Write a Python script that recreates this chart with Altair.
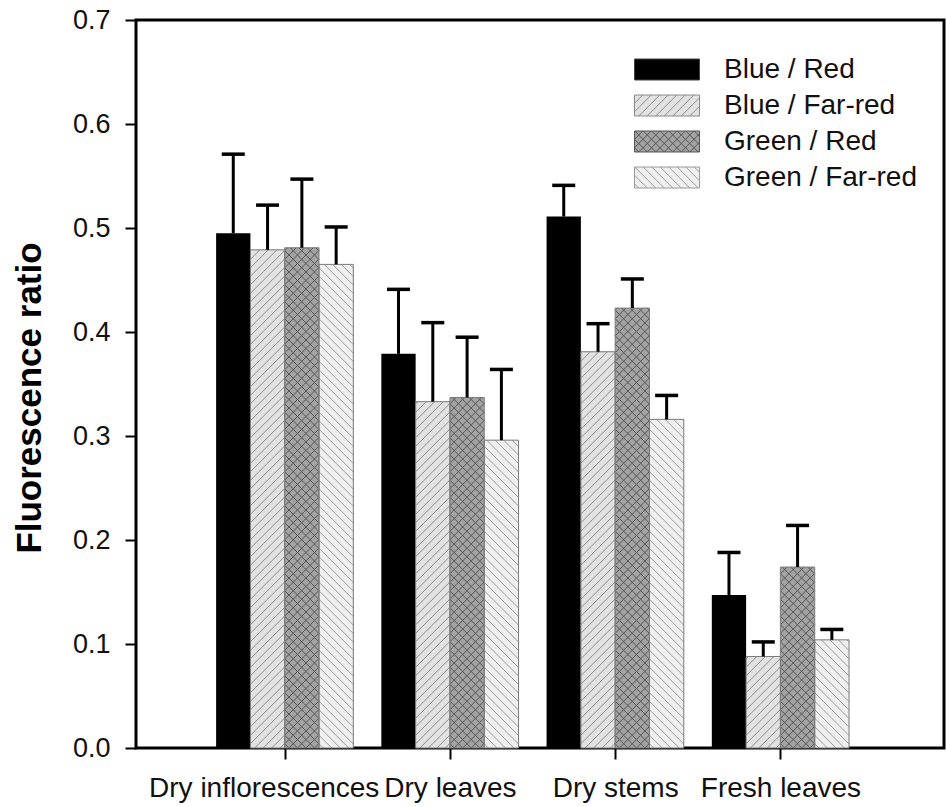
import json
import math
import altair as alt
import pandas as pd

# ---------------- data ----------------
categories = ["Dry inflorescences", "Dry leaves", "Dry stems", "Fresh leaves"]
series = ["Blue / Red", "Blue / Far-red", "Green / Red", "Green / Far-red"]

blue_red = [0.495, 0.379, 0.511, 0.147]
blue_farred = [0.479, 0.333, 0.381, 0.088]
green_red = [0.481, 0.337, 0.423, 0.174]
green_farred = [0.465, 0.296, 0.316, 0.104]

err_blue_red = [0.076, 0.062, 0.030, 0.041]
err_blue_farred = [0.043, 0.076, 0.027, 0.014]
err_green_red = [0.066, 0.058, 0.028, 0.040]
err_green_farred = [0.036, 0.068, 0.023, 0.010]

y_ticks = [0.0, 0.1, 0.2, 0.3, 0.4, 0.5, 0.6, 0.7]

# ---------------- style ----------------
W, H = 808, 728
XMIN, XMAX = -0.9, 3.99
YMAX = 0.7
PX = W / (XMAX - XMIN)
PY = H / YMAX
BAR_PX = 34.3
CAP_PX = 23
BW = BAR_PX / PX
CAPW = CAP_PX / PX
SPACING = 8.5
FONT = "Liberation Sans"

fills = ["#000000", "#e2e2e2", "#a3a3a3", "#efefef"]
hatch_dirs = ["", "/", "x", "\\"]
hatch_colors = ["#000000", "#8a8a8a", "#555555", "#9a9a9a"]
legend_strokes = ["#444444", "#8a8a8a", "#555555", "#9a9a9a"]

values = [blue_red, blue_farred, green_red, green_farred]
errors = [err_blue_red, err_blue_farred, err_green_red, err_green_farred]


def hatch_px(wp, hp, s, d):
    """Hatch segments in pixel space (X right, Y up) inside a wp x hp box."""
    segs = []
    dirs = ["/", "\\"] if d == "x" else ([d] if d else [])
    for dd in dirs:
        if dd == "/":
            for k in range(math.floor(-hp / s) - 1, math.ceil(wp / s) + 2):
                c = (k + 0.5) * s
                y0, y1 = max(0.0, -c), min(hp, wp - c)
                if y1 - y0 > 0.3:
                    segs.append((y0 + c, y0, y1 + c, y1))
        else:
            for k in range(0, math.ceil((wp + hp) / s) + 2):
                c = (k + 0.5) * s
                y0, y1 = max(0.0, c - wp), min(hp, c)
                if y1 - y0 > 0.3:
                    segs.append((c - y0, y0, c - y1, y1))
    return segs


bar_rows, hatch_rows = [], []
for j, s_name in enumerate(series):
    for i, cat in enumerate(categories):
        v = values[j][i]
        e = errors[j][i]
        x0 = i + (j - 2) * BW
        x1 = x0 + BW
        xc = (x0 + x1) / 2
        bar_rows.append(dict(series=s_name, idx=j, cat=cat, x0=x0, x1=x1, xc=xc,
                             value=v, base=0.0, top=v + e, ypt=v / 2,
                             cap0=xc - CAPW / 2, cap1=xc + CAPW / 2))
        for (X0, Y0, X1, Y1) in hatch_px(BAR_PX, v * PY, SPACING, hatch_dirs[j]):
            hatch_rows.append(dict(x=x0 + X0 / PX, x2=x0 + X1 / PX,
                                   y=Y0 / PY, y2=Y1 / PY, c=hatch_colors[j]))

bars_df = pd.DataFrame(bar_rows)
hatch_df = pd.DataFrame(hatch_rows)

# legend symbol paths (65 x 21 px swatches, unit = 10 px)
LW, LH, U = 65.0, 21.0, 10.0


def swatch_path(d):
    hw, hh = LW / 2 / U, LH / 2 / U
    p = f"M{-hw:.3f},{-hh:.3f}H{hw:.3f}V{hh:.3f}H{-hw:.3f}Z"
    for (X0, Y0, X1, Y1) in hatch_px(LW, LH, SPACING, d):
        p += (f"M{(X0 - LW / 2) / U:.3f},{(LH / 2 - Y0) / U:.3f}"
              f"L{(X1 - LW / 2) / U:.3f},{(LH / 2 - Y1) / U:.3f}")
    return p


shapes = [swatch_path(d) for d in hatch_dirs]

xscale = alt.Scale(domain=[XMIN, XMAX], nice=False, zero=False)
yscale = alt.Scale(domain=[0, YMAX], nice=False)

label_expr = json.dumps(categories) + "[datum.value]"

x_axis = alt.Axis(values=[0, 1, 2, 3], labelExpr=label_expr, title=None, grid=False,
                  domain=False, ticks=True, tickSize=11, tickWidth=2, tickColor="black",
                  labelFont=FONT, labelFontSize=28, labelColor="#111111", labelPadding=15,
                  labelOverlap=False, labelFlush=False, labelLimit=500,
                  labelOffset={"condition": {"test": "datum.value === 0", "value": -21}, "value": 0})
y_axis = alt.Axis(values=y_ticks, format=".1f", title="Fluorescence ratio", grid=False,
                  domain=False, tickSize=11, tickWidth=2, tickColor="black",
                  labelFont=FONT, labelFontSize=27, labelColor="#111111", labelPadding=15,
                  labelFlush=False, labelOverlap=False,
                  titleFont=FONT, titleFontSize=35, titleFontWeight="bold", titleColor="black",
                  titleAngle=270, titleX=-107, titleY=377.5, titleAlign="center",
                  titleBaseline="middle")

legend = alt.Legend(title=None, orient="none", legendX=498, legendY=35.5, padding=0,
                    symbolSize=400, symbolOffset=19, labelOffset=43, rowPadding=8,
                    symbolStrokeWidth=1, symbolOpacity=1,
                    labelFont=FONT, labelFontSize=28, labelColor="#111111", labelLimit=400)

base = alt.Chart(bars_df)

legend_pts = base.mark_point(filled=True, opacity=1, strokeWidth=1, size=1).encode(
    x=alt.X("xc:Q", scale=xscale, axis=x_axis),
    y=alt.Y("ypt:Q", scale=yscale, axis=y_axis),
    color=alt.Color("series:N", scale=alt.Scale(domain=series, range=fills), legend=legend),
    shape=alt.Shape("series:N", scale=alt.Scale(domain=series, range=shapes), legend=legend),
    stroke=alt.Stroke("series:N", scale=alt.Scale(domain=series, range=legend_strokes), legend=legend),
)

bars = base.mark_rect(strokeWidth=0).encode(
    x=alt.X("x0:Q", scale=xscale, axis=x_axis), x2="x1:Q",
    y=alt.Y("value:Q", scale=yscale, axis=y_axis), y2="base:Q",
    fill=alt.Fill("series:N", scale=alt.Scale(domain=series, range=fills), legend=None),
)

hatch = alt.Chart(hatch_df).mark_rule(strokeWidth=1).encode(
    x=alt.X("x:Q", scale=xscale), x2="x2:Q",
    y=alt.Y("y:Q", scale=yscale), y2="y2:Q",
    color=alt.Color("c:N", scale=None),
)

outline = base.transform_filter("datum.idx > 0").mark_rect(
    fillOpacity=0, stroke="#7a7a7a", strokeWidth=1).encode(
    x=alt.X("x0:Q", scale=xscale), x2="x1:Q",
    y=alt.Y("value:Q", scale=yscale), y2="base:Q",
)

err = base.mark_rule(color="black", strokeWidth=3).encode(
    x=alt.X("xc:Q", scale=xscale),
    y=alt.Y("value:Q", scale=yscale), y2="top:Q",
)

caps = base.mark_rule(color="black", strokeWidth=3.5).encode(
    x=alt.X("cap0:Q", scale=xscale), x2="cap1:Q",
    y=alt.Y("top:Q", scale=yscale),
)

chart = alt.layer(legend_pts, bars, hatch, outline, err, caps).properties(
    width=W, height=H,
    autosize=alt.AutoSizeParams(type="none"),
    padding={"left": 136, "top": 20, "right": 2, "bottom": 59},
    background="white",
).configure_view(stroke="black", strokeWidth=3)

chart.save("out.html", embed_options={"renderer": "svg", "actions": False})
